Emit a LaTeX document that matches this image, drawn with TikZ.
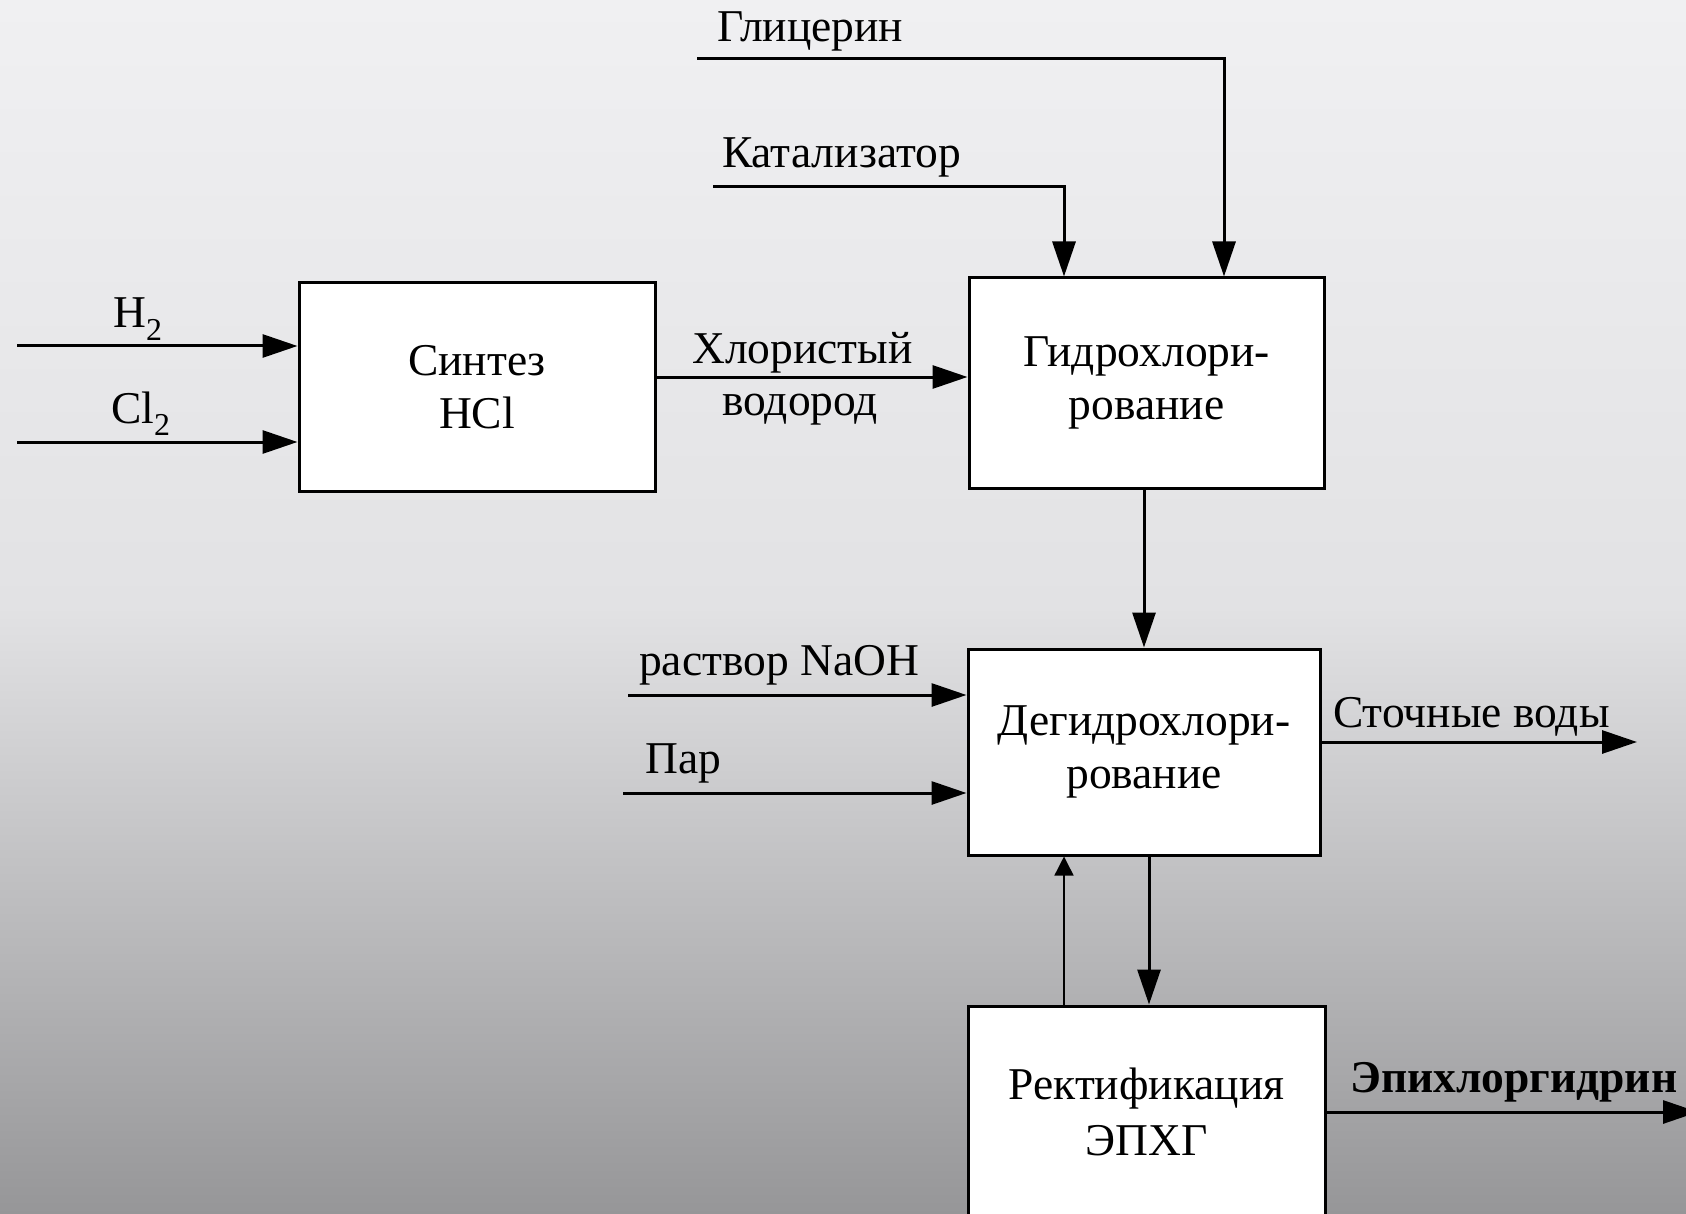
\documentclass[tikz,border=0pt]{standalone}
\usepackage{fontspec}
\setmainfont{Liberation Serif}
\usetikzlibrary{arrows.meta}
\definecolor{bgtop}{RGB}{240,240,242}
\definecolor{bgmid}{RGB}{226,226,228}
\definecolor{bglow}{RGB}{194,194,196}
\definecolor{bgbot}{RGB}{150,150,152}
\pgfdeclareverticalshading{bgshade}{100bp}{color(0bp)=(bgbot); color(25bp)=(bgbot); color(39.5bp)=(bglow); color(50bp)=(bgmid); color(75bp)=(bgtop); color(100bp)=(bgtop)}
\begin{document}
\begin{tikzpicture}[x=1pt,y=-1pt,
  box/.style={draw, line width=3pt, fill=white, inner sep=0pt, align=center, font=\fontsize{45.5}{53}\selectfont},
  flow/.style={line width=3pt, -{Triangle[length=35pt,width=23pt]}},
  thinflow/.style={line width=1.4pt, -{Triangle[length=19pt,width=19pt]}},
  lbl/.style={anchor=base west, inner sep=0pt, font=\fontsize{45.5}{53}\selectfont}]
\useasboundingbox (0,0) rectangle (1686,1214);
\clip (0,0) rectangle (1686,1214);
\shade[shading=bgshade] (0,0) rectangle (1686,1214);

\node[box, minimum width=356pt, minimum height=208pt] (synth) at (477,387) {Синтез\\HCl};
\node[box, minimum width=355pt, minimum height=210pt] (hydro) at (1146.5,383) {Гидрохлори-\\рование};
\node[box, minimum width=352pt, minimum height=206pt] (dehydro) at (1144,752) {Дегидрохлори-\\рование};
\node[box, minimum width=357pt, minimum height=212pt] (rect) at (1146.5,1112) {Ректификация\\[3pt]ЭПХГ};

\coordinate (h2s) at (17,346);
\coordinate (cl2s) at (17,442);
\draw[flow] (h2s) -- (h2s -| synth.west);
\draw[flow] (cl2s) -- (cl2s -| synth.west);
\coordinate (hcl) at (0,377);
\draw[flow] (hcl -| synth.east) -- (hcl -| hydro.west);
\coordinate (gls) at (697,59);
\coordinate (glx) at (1224,0);
\draw[flow] (gls) -| (glx |- hydro.north);
\coordinate (kats) at (713,187);
\coordinate (katx) at (1064,0);
\draw[flow] (kats) -| (katx |- hydro.north);
\draw[flow] (dehydro.north |- hydro.south) -- (dehydro.north);
\coordinate (naoh) at (628,695);
\draw[flow] (naoh) -- (naoh -| dehydro.west);
\coordinate (par) at (623,793);
\draw[flow] (par) -- (par -| dehydro.west);
\coordinate (stoch) at (1637,742);
\draw[flow] (stoch -| dehydro.east) -- (stoch);
\coordinate (recx) at (1064,0);
\draw[thinflow] (recx |- rect.north) -- (recx |- dehydro.south);
\coordinate (downx) at (1149,0);
\draw[flow] (downx |- dehydro.south) -- (downx |- rect.north);
\coordinate (epi) at (1698,1112);
\draw[flow] (epi -| rect.east) -- (epi);

\node[lbl] (lgl) at (717,42) {Глицерин};
\node[lbl] (lkat) at (722,168) {Катализатор};
\node[lbl] (lh2) at (113,328) {H\textsubscript{2}};
\node[lbl] (lcl2) at (111,423) {Cl\textsubscript{2}};
\node[lbl] (lhcl1) at (692,363) {Хлористый};
\node[lbl] (lhcl2) at (722,415) {водород};
\node[lbl] (lnaoh) at (639,675) {раствор NaOH};
\node[lbl] (lpar) at (645,773) {Пар};
\node[lbl] (lstoch) at (1333,727) {Сточные воды};
\node[lbl, font=\fontsize{45.5}{53}\selectfont\bfseries] (lepi) at (1350,1092) {Эпихлоргидрин};
\end{tikzpicture}
\end{document}
